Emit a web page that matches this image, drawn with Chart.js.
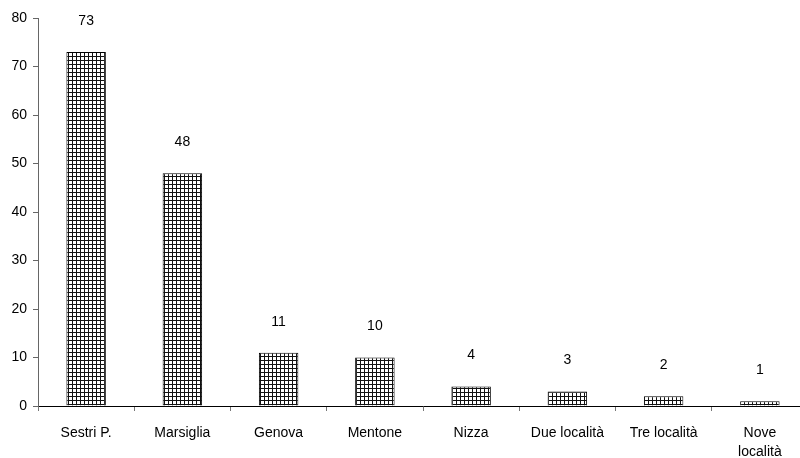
<!DOCTYPE html>
<html>
<head>
<meta charset="utf-8">
<script src="https://cdn.jsdelivr.net/npm/chart.js@4/dist/chart.umd.min.js"></script>
<style>
  html, body { margin: 0; padding: 0; background: #fff; overflow: hidden; }
  #wrap { width: 808px; height: 458px; position: relative; }
</style>
</head>
<body>
<div id="wrap"><canvas id="c"></canvas></div>
<script>
const categories = ['Sestri P.', 'Marsiglia', 'Genova', 'Mentone', 'Nizza', 'Due località', 'Tre località', ['Nove', 'località']];
const counts = [73, 48, 11, 10, 4, 3, 2, 1];
const yTicks = [0, 10, 20, 30, 40, 50, 60, 70, 80];

// Small square-grid hatch used to fill the bars
function gridPattern() {
  const p = document.createElement('canvas');
  p.width = 4; p.height = 4;
  const g = p.getContext('2d');
  g.fillStyle = '#fff';
  g.fillRect(0, 0, 4, 4);
  g.fillStyle = '#111';
  g.fillRect(0, 0, 4, 1);
  g.fillRect(0, 0, 1, 4);
  return g.createPattern(p, 'repeat');
}

// Value written above each bar
const valueLabels = {
  id: 'valueLabels',
  afterDatasetsDraw(chart) {
    const ctx = chart.ctx;
    const meta = chart.getDatasetMeta(0);
    ctx.save();
    ctx.font = '14px "Liberation Sans", Arial, sans-serif';
    ctx.fillStyle = '#000';
    ctx.textAlign = 'center';
    ctx.textBaseline = 'middle';
    meta.data.forEach((bar, i) => {
      const v = chart.data.datasets[0].data[i];
      ctx.fillText(String(v), bar.x, Math.max(bar.y - 31, 18));
    });
    ctx.restore();
  }
};

const font = { family: '"Liberation Sans", Arial, sans-serif', size: 14, lineHeight: 1.35 };

new Chart(document.getElementById('c'), {
  type: 'bar',
  data: {
    labels: categories,
    datasets: [{
      data: counts,
      backgroundColor: gridPattern(),
      borderColor: '#000',
      borderWidth: 1,
      borderSkipped: 'bottom',
      barPercentage: 0.41,
      categoryPercentage: 1.0
    }]
  },
  options: {
    responsive: true,
    maintainAspectRatio: false,
    animation: false,
    layout: { padding: { top: 18, right: 0, bottom: 0, left: 0 } },
    plugins: {
      legend: { display: false },
      tooltip: { enabled: false }
    },
    scales: {
      x: {
        offset: true,
        grid: {
          offset: true,
          drawOnChartArea: false,
          drawTicks: true,
          tickLength: 5,
          color: '#777',
          lineWidth: 1
        },
        border: { display: true, color: '#000', width: 1 },
        ticks: {
          color: '#000',
          font: font,
          padding: 13,
          maxRotation: 0,
          autoSkip: false
        },
        afterFit(scale) { scale.height = 52; }
      },
      y: {
        min: 0,
        max: 80,
        afterBuildTicks(scale) { scale.ticks = yTicks.map(v => ({ value: v })); },
        grid: {
          drawOnChartArea: false,
          drawTicks: true,
          tickLength: 5,
          color: '#666',
          lineWidth: 1
        },
        border: { display: true, color: '#666', width: 1 },
        ticks: {
          color: '#000',
          font: { family: '"Liberation Sans", Arial, sans-serif', size: 14 },
          padding: 6
        },
        afterFit(scale) { scale.width = 38; }
      }
    }
  },
  plugins: [valueLabels]
});
</script>
</body>
</html>
